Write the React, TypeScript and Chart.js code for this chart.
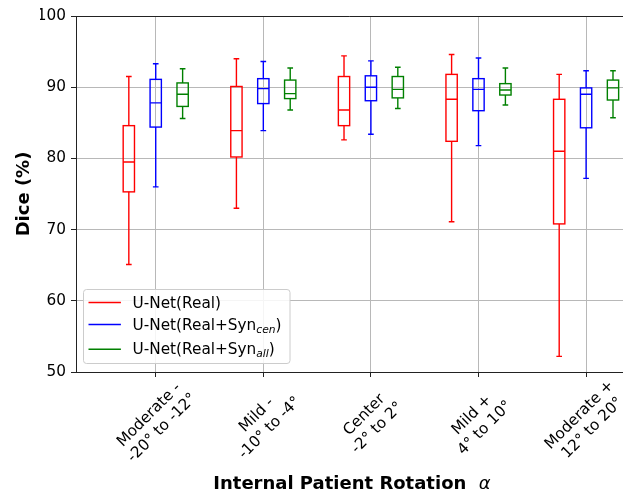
import React, { useEffect, useRef } from 'react';
import { Chart, registerables } from 'chart.js';

Chart.register(...registerables);

// Category tick labels (two lines each)
const categoryLines: string[][] = [
  ['Moderate -', '-20° to -12°'],
  ['Mild -', '-10° to -4°'],
  ['Center', '-2° to 2°'],
  ['Mild +', '4° to 10°'],
  ['Moderate +', '12° to 20°'],
];

// Each entry: [lower whisker, Q1, median, Q3, upper whisker]
const unetReal: number[][] = [
  [65.1, 75.3, 79.5, 84.6, 91.5],
  [73.0, 80.2, 83.9, 90.1, 94.0],
  [82.6, 84.6, 86.8, 91.5, 94.4],
  [71.1, 82.4, 88.3, 91.8, 94.6],
  [52.2, 70.8, 81.0, 88.3, 91.8],
];
const unetRealSynCen: number[][] = [
  [76.0, 84.4, 87.8, 91.1, 93.3],
  [83.9, 87.7, 89.8, 91.2, 93.6],
  [83.4, 88.1, 90.0, 91.6, 93.7],
  [81.8, 86.7, 89.7, 91.2, 94.1],
  [77.2, 84.3, 89.0, 89.9, 92.3],
];
const unetRealSynAll: number[][] = [
  [85.6, 87.3, 89.0, 90.6, 92.6],
  [86.8, 88.4, 89.1, 91.0, 92.7],
  [87.0, 88.5, 89.7, 91.5, 92.8],
  [87.5, 88.9, 89.6, 90.5, 92.7],
  [85.7, 88.2, 89.9, 91.0, 92.3],
];

const seriesLabels = [
  { main: 'U-Net(Real)', sub: '', tail: '' },
  { main: 'U-Net(Real+Syn', sub: 'cen', tail: ')' },
  { main: 'U-Net(Real+Syn', sub: 'all', tail: ')' },
];
const seriesColors = ['#ff0000', '#0000ff', '#008000'];
const seriesOffsets = [-0.25, 0, 0.25];
const seriesStats = [unetReal, unetRealSynCen, unetRealSynAll];

const yTicks = [50, 60, 70, 80, 90, 100];

const FONT = "'DejaVu Sans'";
const BOX_W = 0.105;

const boxPlugin = {
  id: 'boxDraw',
  afterDatasetsDraw(chart: any) {
    const ctx = chart.ctx;
    const xs = chart.scales.x;
    const ys = chart.scales.y;
    const halfW = (xs.getPixelForValue(BOX_W) - xs.getPixelForValue(0)) / 2;
    const capW = halfW / 2;
    ctx.save();
    ctx.lineWidth = 1.4;
    chart.data.datasets.forEach((ds: any) => {
      ctx.strokeStyle = ds.borderColor;
      ds.stats.forEach((st: number[], i: number) => {
        const xc = xs.getPixelForValue(i + 1 + ds.offset);
        const [lo, q1, med, q3, hi] = st.map((v) => ys.getPixelForValue(v));
        ctx.beginPath();
        ctx.moveTo(xc, q1); ctx.lineTo(xc, lo);
        ctx.moveTo(xc, q3); ctx.lineTo(xc, hi);
        ctx.moveTo(xc - capW, lo); ctx.lineTo(xc + capW, lo);
        ctx.moveTo(xc - capW, hi); ctx.lineTo(xc + capW, hi);
        ctx.moveTo(xc - halfW, med); ctx.lineTo(xc + halfW, med);
        ctx.stroke();
        ctx.strokeRect(xc - halfW, q3, halfW * 2, q1 - q3);
      });
    });
    ctx.restore();
  },
  afterDraw(chart: any) {
    const ctx = chart.ctx;
    const xs = chart.scales.x;
    const area = chart.chartArea;
    ctx.save();
    // top spine
    ctx.strokeStyle = '#222';
    ctx.lineWidth = 1;
    ctx.beginPath();
    ctx.moveTo(area.left, Math.round(area.top) + 0.5);
    ctx.lineTo(area.right, Math.round(area.top) + 0.5);
    ctx.stroke();

    ctx.fillStyle = '#000';
    // x tick labels, rotated 45°
    ctx.font = `15.3px ${FONT}`;
    ctx.textAlign = 'center';
    ctx.textBaseline = 'middle';
    categoryLines.forEach((lines, i) => {
      const x = xs.getPixelForValue(i + 1);
      ctx.save();
      ctx.translate(x, area.bottom + 49.5);
      ctx.rotate(-Math.PI / 4);
      ctx.fillText(lines[0], 0, -9.2);
      ctx.fillText(lines[1], 0, 9.2);
      ctx.restore();
    });

    // x title
    ctx.textBaseline = 'alphabetic';
    ctx.textAlign = 'left';
    const t1 = 'Internal Patient Rotation  ';
    ctx.font = `bold 18px ${FONT}`;
    const w1 = ctx.measureText(t1).width;
    ctx.font = `oblique 18px ${FONT}`;
    const w2 = ctx.measureText('α').width;
    const tx = 352 - (w1 + w2) / 2;
    ctx.font = `bold 18px ${FONT}`;
    ctx.fillText(t1, tx, 489);
    ctx.font = `oblique 18px ${FONT}`;
    ctx.fillText('α', tx + w1, 489);

    // y title
    ctx.save();
    ctx.translate(28.5, (area.top + area.bottom) / 2);
    ctx.rotate(-Math.PI / 2);
    ctx.font = `bold 18px ${FONT}`;
    ctx.textAlign = 'center';
    ctx.fillText('Dice (%)', 0, 0);
    ctx.restore();

    // legend
    const lx = area.left + 7.5;
    const lyBottom = area.bottom - 8.5;
    const lh = 74;
    const lw = 206.5;
    const ly = lyBottom - lh;
    ctx.beginPath();
    ctx.roundRect(lx, ly, lw, lh, 3);
    ctx.fillStyle = 'rgba(255,255,255,0.85)';
    ctx.fill();
    ctx.strokeStyle = '#cccccc';
    ctx.lineWidth = 1;
    ctx.stroke();
    const rowY = [ly + 13, ly + 35, ly + 59.7];
    seriesLabels.forEach((lab, k) => {
      const y = rowY[k];
      ctx.strokeStyle = seriesColors[k];
      ctx.lineWidth = 1.6;
      ctx.beginPath();
      ctx.moveTo(lx + 5, y);
      ctx.lineTo(lx + 37.4, y);
      ctx.stroke();
      ctx.fillStyle = '#000';
      ctx.textAlign = 'left';
      ctx.textBaseline = 'alphabetic';
      let cx = lx + 49;
      const base = y + 5;
      ctx.font = `15.3px ${FONT}`;
      ctx.fillText(lab.main, cx, base);
      cx += ctx.measureText(lab.main).width;
      if (lab.sub) {
        ctx.font = `oblique 10.7px ${FONT}`;
        ctx.fillText(lab.sub, cx, base + 3);
        cx += ctx.measureText(lab.sub).width;
        ctx.font = `15.3px ${FONT}`;
        ctx.fillText(lab.tail, cx, base);
      }
    });
    ctx.restore();
  },
};

export default function App() {
  const ref = useRef<HTMLCanvasElement | null>(null);
  useEffect(() => {
    if (!ref.current) return;
    const datasets = seriesStats.map((stats, k) => ({
      label: seriesLabels[k].main + seriesLabels[k].sub + seriesLabels[k].tail,
      data: stats.map((st, i) => ({ x: i + 1 + seriesOffsets[k], y: st[2] })),
      borderColor: seriesColors[k],
      backgroundColor: seriesColors[k],
      pointRadius: 0,
      showLine: false,
      stats,
      offset: seriesOffsets[k],
    }));
    const chart = new Chart(ref.current, {
      type: 'scatter',
      data: { datasets: datasets as any },
      options: {
        animation: false,
        responsive: false,
        devicePixelRatio: 1,
        layout: { padding: { left: 40, top: 16, right: 0, bottom: 117 } },
        plugins: { legend: { display: false }, tooltip: { enabled: false } },
        scales: {
          x: {
            type: 'linear',
            min: 0.259,
            max: 5.343,
            afterBuildTicks: (s: any) => {
              s.ticks = categoryLines.map((_, i) => ({ value: i + 1 }));
            },
            afterFit: (s: any) => { s.height = 5; },
            ticks: { display: false },
            grid: { color: '#b8b8b8', lineWidth: 1, drawTicks: true, tickLength: 5, tickColor: '#222' },
            border: { display: true, color: '#222', width: 1 },
          },
          y: {
            type: 'linear',
            min: 50,
            max: 100,
            afterBuildTicks: (s: any) => {
              s.ticks = yTicks.map((v) => ({ value: v }));
            },
            afterFit: (s: any) => { s.width = 36; },
            ticks: { font: { family: FONT, size: 15.3 }, color: '#000', padding: 5 },
            grid: { color: '#b8b8b8', lineWidth: 1, drawTicks: true, tickLength: 5, tickColor: '#222' },
            border: { display: true, color: '#222', width: 1 },
          },
        },
      },
      plugins: [boxPlugin],
    });
    return () => chart.destroy();
  }, []);
  return (
    <div style={{ position: 'fixed', left: 0, top: 0, width: 623, height: 494, background: '#fff' }}>
      <canvas ref={ref} width={623} height={494} style={{ display: 'block' }} />
    </div>
  );
}
